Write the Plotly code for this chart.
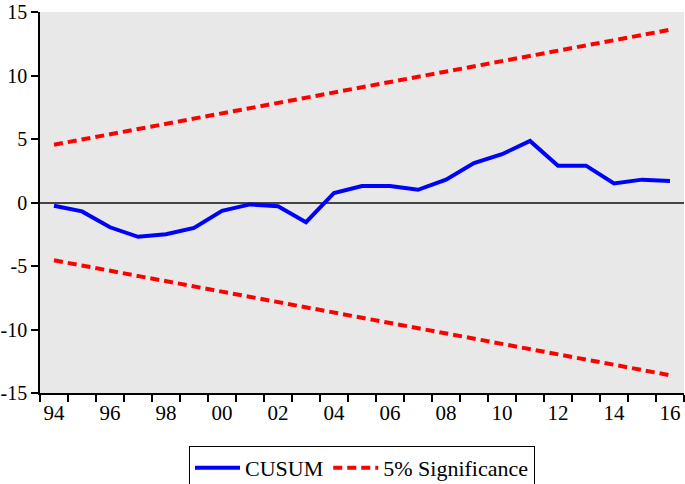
import plotly.graph_objects as go

years = list(range(1994, 2017))
cusum = [-0.25, -0.7, -1.95, -2.7, -2.5, -2.0, -0.65, -0.15, -0.3, -1.55,
         0.75, 1.3, 1.3, 1.0, 1.8, 3.1, 3.8, 4.85, 2.9, 2.9, 1.5, 1.8, 1.7]
bound_years = [1994, 2016]
upper = [4.55, 13.6]
lower = [-4.55, -13.6]

ytick_vals = [15, 10, 5, 0, -5, -10, -15]
ytick_text = ["15", "10", "5", "0", "-5", "-10", "-15"]
xtick_vals = list(range(1994, 2017, 2))
xtick_text = ["94", "96", "98", "00", "02", "04", "06", "08", "10", "12", "14", "16"]
xminor_vals = [y - 0.5 for y in range(1994, 2018)]

font = "Liberation Serif"

fig = go.Figure()
fig.add_trace(go.Scatter(x=years, y=cusum, mode="lines", name="CUSUM",
                         line=dict(color="#0000FF", width=4)))
fig.add_trace(go.Scatter(x=bound_years, y=upper, mode="lines", name="5% Significance",
                         line=dict(color="#FF0000", width=4, dash="9px,5px")))
fig.add_trace(go.Scatter(x=bound_years, y=lower, mode="lines", showlegend=False,
                         line=dict(color="#FF0000", width=4, dash="9px,5px")))

fig.update_layout(
    width=685, height=484,
    margin=dict(l=40, r=1, t=12, b=91, autoexpand=False),
    paper_bgcolor="white", plot_bgcolor="#E8E8E8",
    font=dict(family=font, size=21, color="black"),
    showlegend=True,
    legend=dict(orientation="h", x=0.5, xanchor="center", y=-0.139, yanchor="top",
                bordercolor="black", borderwidth=1, bgcolor="white",
                font=dict(family=font, size=22), itemwidth=45),
)
fig.update_xaxes(range=[1993.5, 2016.5], tickmode="array", tickvals=xtick_vals,
                 ticktext=xtick_text, ticks="", showgrid=False, zeroline=False,
                 showline=True, linecolor="black", linewidth=1.5, automargin=False,
                 ticklabeloverflow="allow",
                 minor=dict(tickmode="array", tickvals=xminor_vals, ticks="outside",
                            ticklen=7, tickcolor="black", tickwidth=1.5, showgrid=False),
                 tickfont=dict(family=font, size=21))
fig.update_yaxes(range=[-15, 15], tickmode="array", tickvals=ytick_vals, ticktext=ytick_text,
                 ticks="outside", ticklen=7, tickcolor="black", tickwidth=1.5,
                 showgrid=False, zeroline=True, zerolinecolor="#444444", zerolinewidth=2,
                 showline=True, linecolor="black", linewidth=1.5, automargin=False,
                 ticklabeloverflow="allow",
                 tickfont=dict(family=font, size=20))

fig.write_html("out.html", config={"displayModeBar": False},
               post_script="document.body.style.margin='0';")
